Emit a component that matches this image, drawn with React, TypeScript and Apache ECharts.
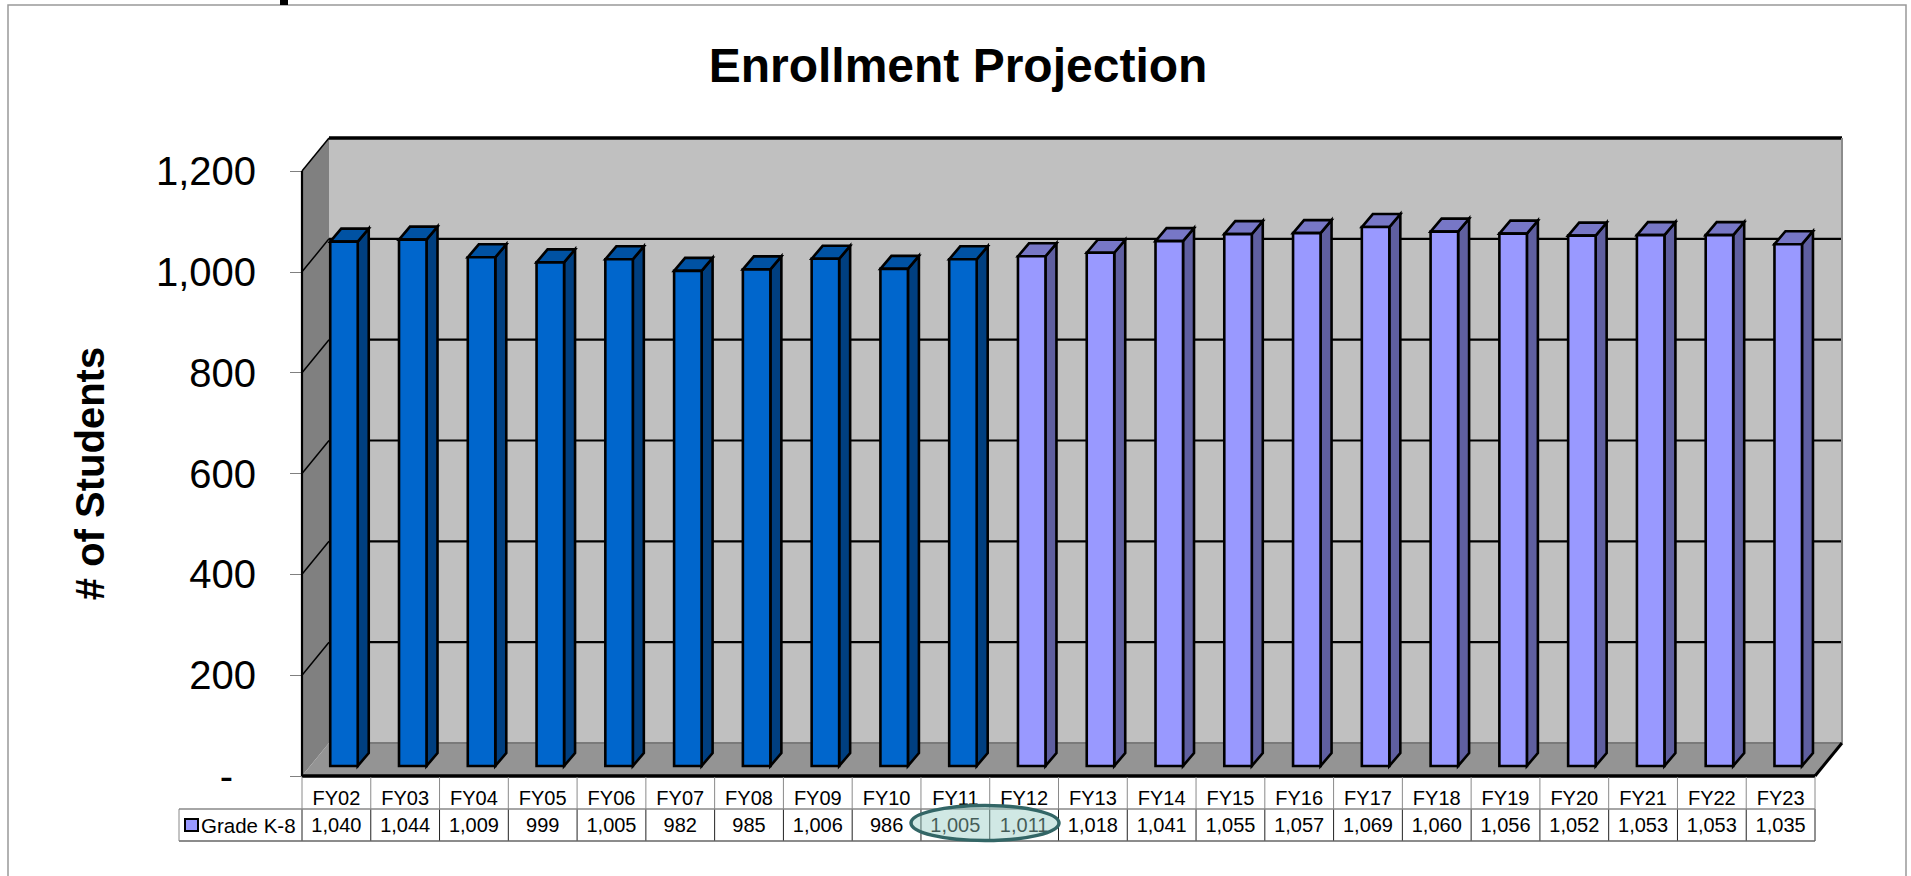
import React, { useEffect, useRef } from "react";
import * as echarts from "echarts";

const categories = ["FY02","FY03","FY04","FY05","FY06","FY07","FY08","FY09","FY10","FY11","FY12","FY13","FY14","FY15","FY16","FY17","FY18","FY19","FY20","FY21","FY22","FY23"];
const gradeK8 = [1040,1044,1009,999,1005,982,985,1006,986,1005,1011,1018,1041,1055,1057,1069,1060,1056,1052,1053,1053,1035];
const actualCount = 10;
const yTicks = [0,200,400,600,800,1000,1200];
const FONT = "'Liberation Sans', Arial, sans-serif";
const fmt = (v: number) => v.toLocaleString("en-US");

const DX = 27, DY = -33;            // depth of the chart box
const BAR_SHIFT_X = 7.6, BAR_SHIFT_Y = -10; // bars stand in the middle of the floor
const BAR_DX = 11, BAR_DY = -13;    // depth of a bar
const BAR_W = 27.5;
const BLUE = { front: "#0066CC", side: "#003F80", top: "#0052A3" };
const LAV = { front: "#9999FF", side: "#5F5FA0", top: "#7777C6" };

const poly = (points: number[][], fill: string, stroke: string | undefined, lineWidth = 0) => ({
  type: "polygon", shape: { points }, style: { fill, stroke, lineWidth, lineJoin: "miter" }, silent: true,
});
const seg = (a: number[], b: number[], stroke: string, lineWidth: number) => ({
  type: "line", shape: { x1: a[0], y1: a[1], x2: b[0], y2: b[1] }, style: { stroke, lineWidth }, silent: true,
});

function renderBox(_: any, api: any) {
  const n = categories.length;
  const band = api.size([1, 0])[0];
  const left = api.coord([0, 0])[0] - band / 2;
  const right = left + band * n;
  const y0 = api.coord([0, 0])[1];
  const yT = api.coord([0, 1200])[1];
  const c: any[] = [
    poly([[left + DX, yT + DY], [right + DX, yT + DY], [right + DX, y0 + DY], [left + DX, y0 + DY]], "#C0C0C0", undefined),
    poly([[left, yT], [left + DX, yT + DY], [left + DX, y0 + DY], [left, y0]], "#808080", undefined),
    poly([[left, y0], [left + DX, y0 + DY], [right + DX, y0 + DY], [right, y0]], "#949494", undefined),
  ];
  for (const t of yTicks) {
    const y = api.coord([0, t])[1];
    if (t > 0) {
      c.push(seg([left, y], [left + DX, y + DY], "#000", 1.5));
      c.push(seg([left + DX, y + DY], [right + DX, y + DY], "#000", t === 1200 ? 3.5 : 2.2));
    }
  }
  c.push(seg([left + DX, y0 + DY], [right + DX, y0 + DY], "#7a7a7a", 2));
  c.push(seg([right + DX, yT + DY], [right + DX, y0 + DY], "#8c8c8c", 2));
  c.push(seg([left, yT], [left, y0], "#000", 2.2));
  c.push(seg([left, y0], [right, y0], "#000", 3.5));
  c.push(seg([right, y0], [right + DX, y0 + DY], "#000", 3));
  return { type: "group", children: c };
}

function renderBar(params: any, api: any) {
  const i = api.value(0);
  const [cx, yTop] = api.coord([i, api.value(1)]);
  const y0 = api.coord([i, 0])[1] + BAR_SHIFT_Y;
  const top = yTop + BAR_SHIFT_Y;
  const l = cx + BAR_SHIFT_X - BAR_W / 2;
  const r = l + BAR_W;
  const col = i < actualCount ? BLUE : LAV;
  const sw = 2.6;
  return {
    type: "group",
    children: [
      poly([[r, top], [r + BAR_DX, top + BAR_DY], [r + BAR_DX, y0 + BAR_DY], [r, y0]], col.side, "#000", sw),
      poly([[l, top], [l + BAR_DX, top + BAR_DY], [r + BAR_DX, top + BAR_DY], [r, top]], col.top, "#000", sw),
      poly([[l, top], [r, top], [r, y0], [l, y0]], col.front, "#000", sw),
    ],
  };
}

const ROW1 = 809, ROW2 = 841, LEGEND_X = 179;

function renderTable(_: any, api: any) {
  const n = categories.length;
  const band = api.size([1, 0])[0];
  const left = api.coord([0, 0])[0] - band / 2;
  const y0 = api.coord([0, 0])[1] + 1;
  const c: any[] = [];
  for (let i = 0; i <= n; i++) {
    const x = left + i * band;
    c.push(seg([x, y0], [x, ROW1], "#8a8a8a", 1));
    c.push(seg([x, ROW1], [x, ROW2], "#222", 1));
  }
  c.push(seg([LEGEND_X, ROW1], [left + n * band, ROW1], "#888", 1.5));
  c.push(seg([LEGEND_X, ROW2], [left + n * band, ROW2], "#666", 1.5));
  c.push(seg([LEGEND_X, ROW1], [LEGEND_X, ROW2], "#888", 1));
  return { type: "group", children: c };
}

export default function App() {
  const ref = useRef<HTMLDivElement>(null);
  useEffect(() => {
    document.body.style.margin = "0";
    const chart = echarts.init(ref.current!, null, { renderer: "svg" });
    chart.setOption({
      animation: false,
      backgroundColor: "#fff",
      textStyle: { fontFamily: FONT },
      title: {
        text: "Enrollment Projection",
        left: 953, top: 36, textAlign: "center",
        textStyle: { fontFamily: FONT, fontSize: 48, fontWeight: "bold", color: "#000" },
      },
      grid: { left: 302, top: 171, width: 1513, height: 605, containLabel: false },
      xAxis: [
        {
          type: "category", data: categories, position: "bottom",
          axisLine: { show: false }, axisTick: { show: false },
          axisLabel: { fontFamily: FONT, fontSize: 20, color: "#000", margin: 12, interval: 0 },
        },
        {
          type: "category", data: categories, position: "bottom", offset: 27,
          axisLine: { show: false }, axisTick: { show: false },
          axisLabel: {
            fontFamily: FONT, fontSize: 20, color: "#000", margin: 12, interval: 0,
            formatter: (_: string, i: number) => fmt(gradeK8[i]),
          },
        },
      ],
      yAxis: {
        type: "value", min: 0, max: 1200, interval: 200,
        name: "# of Students", nameLocation: "middle", nameGap: 192, nameRotate: 90,
        nameTextStyle: { fontFamily: FONT, fontSize: 40, fontWeight: "bold", color: "#000" },
        axisLine: { show: false },
        axisTick: { show: true, length: 12, lineStyle: { color: "#808080", width: 1 } },
        splitLine: { show: false },
        axisLabel: {
          fontFamily: FONT, fontSize: 40, color: "#000", margin: 46,
          formatter: (v: number) => (v === 0 ? "{z|-}" : fmt(v)),
          rich: { z: { fontFamily: FONT, fontSize: 40, color: "#000", padding: [0, 23, 0, 0] } },
        },
      },
      series: [
        { type: "custom", name: "box", z: 1, silent: true, data: [[0, 0]], renderItem: renderBox, clip: false },
        { type: "custom", name: "table", z: 1, silent: true, data: [[0, 0]], renderItem: renderTable, clip: false },
        {
          type: "custom", name: "Grade K-8", z: 2, silent: true, clip: false,
          data: gradeK8.map((v, i) => [i, v]), encode: { x: 0, y: 1 }, renderItem: renderBar,
        },
      ],
      graphic: [
        { type: "rect", z: 0, silent: true, shape: { x: 8, y: 5, width: 1898, height: 900 }, style: { fill: "transparent", stroke: "#999", lineWidth: 1.5 } },
        { type: "rect", z: 5, silent: true, shape: { x: 280, y: 0, width: 8, height: 5 }, style: { fill: "#000" } },
        { type: "rect", z: 5, silent: true, shape: { x: 185, y: 819, width: 13, height: 12 }, style: { fill: "#9999FF", stroke: "#000", lineWidth: 2 } },
        { type: "text", z: 5, silent: true, x: 201, y: 825, style: { text: "Grade K-8", font: `20.5px ${FONT}`, fill: "#000", verticalAlign: "middle" } },
        { type: "ellipse", z: 100, silent: true, shape: { cx: 985, cy: 823, rx: 74, ry: 17.5 }, style: { fill: "rgba(150,205,195,0.45)", stroke: "#336666", lineWidth: 3.5 } },
      ],
    });
    return () => chart.dispose();
  }, []);
  return <div ref={ref} style={{ width: 1911, height: 876 }} />;
}
